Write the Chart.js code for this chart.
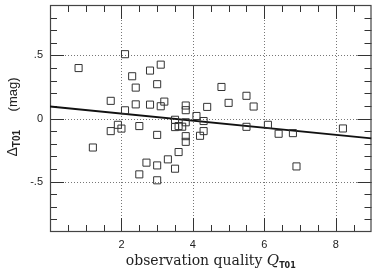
<!DOCTYPE html>
<html>
<head>
<meta charset="utf-8">
<script src="https://cdn.jsdelivr.net/npm/chart.js@4"></script>
<style>
  html, body { margin: 0; padding: 0; background: #fff; }
  #c { display: block; }
</style>
</head>
<body>
<canvas id="c" width="372" height="269"></canvas>
<script>
// observation quality Q_T01 and residual Delta_T01 (mag)
const quality = [0.8, 1.2, 1.7, 1.7, 1.9, 2.0, 2.1, 2.1, 2.3, 2.4, 2.4, 2.5, 2.5, 2.7, 2.8, 2.8,
  3.0, 3.0, 3.0, 3.0, 3.1, 3.1, 3.2, 3.3, 3.5, 3.5, 3.5, 3.6, 3.6, 3.7, 3.8, 3.8, 3.8, 3.8, 3.8,
  4.1, 4.2, 4.3, 4.3, 4.4, 4.8, 5.0, 5.5, 5.5, 5.7, 6.1, 6.4, 6.8, 6.9, 8.2];
const delta = [0.40, -0.23, 0.14, -0.10, -0.05, -0.08, 0.51, 0.065, 0.335, 0.245, 0.112, -0.06, -0.443, -0.35, 0.38, 0.11,
  0.272, -0.13, -0.372, -0.49, 0.427, 0.097, 0.134, -0.324, -0.01, -0.068, -0.398, -0.06, -0.266, -0.065, 0.103, 0.066, -0.03, -0.14, -0.185,
  0.02, -0.137, -0.02, -0.1, 0.092, 0.25, 0.124, 0.18, -0.066, 0.095, -0.05, -0.121, -0.116, -0.38, -0.079];

// straight fit line
const fitQ = [0, 9];
const fitDelta = [0.095, -0.157];

const xTicks = [2, 4, 6, 8];
const xTickLabels = ['2', '4', '6', '8'];
const yTicks = [-0.5, 0, 0.5];
const yTickLabels = ['-.5', '0', '.5'];

const near = (a, b) => Math.abs(a - b) < 1e-6;

// keep the plot box fixed: no extra padding from tick labels
function noPad(s) {
  s.paddingTop = 0;
  s.paddingBottom = 0;
  s.paddingLeft = 0;
  s.paddingRight = 0;
}

const framePlugin = {
  id: 'frame',
  beforeDatasetsDraw(chart) {
    const ctx = chart.ctx;
    const a = chart.chartArea;
    const xs = chart.scales.x, ys = chart.scales.y;
    ctx.save();
    // dotted grid at major ticks
    ctx.strokeStyle = '#777';
    ctx.lineWidth = 1;
    ctx.setLineDash([1, 2]);
    xTicks.forEach(v => {
      const px = Math.round(xs.getPixelForValue(v)) + 0.5;
      ctx.beginPath(); ctx.moveTo(px, a.top); ctx.lineTo(px, a.bottom); ctx.stroke();
    });
    yTicks.forEach(v => {
      const py = Math.round(ys.getPixelForValue(v)) + 0.5;
      ctx.beginPath(); ctx.moveTo(a.left, py); ctx.lineTo(a.right, py); ctx.stroke();
    });
    ctx.setLineDash([]);
    // inward tick marks on all four sides
    ctx.strokeStyle = '#333';
    for (let i = 1; i < 18; i++) {
      const v = i * 0.5;
      const major = xTicks.some(t => near(t, v));
      const len = major ? 14 : 7;
      const px = Math.round(xs.getPixelForValue(v)) + 0.5;
      ctx.beginPath();
      ctx.moveTo(px, a.bottom); ctx.lineTo(px, a.bottom - len);
      ctx.moveTo(px, a.top); ctx.lineTo(px, a.top + len);
      ctx.stroke();
    }
    for (let i = -8; i <= 8; i++) {
      const v = i / 10;
      const major = yTicks.some(t => near(t, v));
      const len = major ? 14 : 7;
      const py = Math.round(ys.getPixelForValue(v)) + 0.5;
      ctx.beginPath();
      ctx.moveTo(a.left, py); ctx.lineTo(a.left + len, py);
      ctx.moveTo(a.right, py); ctx.lineTo(a.right - len, py);
      ctx.stroke();
    }
    // frame
    ctx.strokeStyle = '#444';
    ctx.lineWidth = 1.2;
    ctx.strokeRect(a.left + 0.5, a.top + 0.5, a.right - a.left - 1, a.bottom - a.top - 1);
    ctx.restore();
  },
  afterDraw(chart) {
    const ctx = chart.ctx;
    const a = chart.chartArea;
    ctx.save();
    ctx.fillStyle = '#222';
    ctx.textBaseline = 'alphabetic';
    // x title: observation quality Q_T01
    const main = 'observation quality ';
    ctx.font = '14px "DejaVu Serif"';
    const w1 = ctx.measureText(main).width;
    ctx.font = 'italic 15px "DejaVu Serif"';
    const w2 = ctx.measureText('Q').width;
    ctx.font = 'bold 8px "DejaVu Sans"';
    const w3 = ctx.measureText('T01').width;
    let x = (a.left + a.right) / 2 - (w1 + w2 + w3) / 2;
    const base = 265;
    ctx.font = '14px "DejaVu Serif"';
    ctx.fillText(main, x, base);
    x += w1;
    ctx.font = 'italic 15px "DejaVu Serif"';
    ctx.fillText('Q', x, base);
    x += w2;
    ctx.font = 'bold 8px "DejaVu Sans"';
    ctx.fillText('T01', x, base + 3);
    // y title: Delta_T01 (mag), rotated
    ctx.translate(17, (a.top + a.bottom) / 2);
    ctx.rotate(-Math.PI / 2);
    let y = -38;
    ctx.font = '14px "Liberation Sans"';
    ctx.fillText('\u0394', y, 0);
    y += ctx.measureText('\u0394').width;
    ctx.font = 'bold 10px "Liberation Sans"';
    ctx.fillText('T01', y, 3);
    ctx.font = '13px "Liberation Sans"';
    ctx.textAlign = 'right';
    ctx.fillText('(mag)', 41, 0);
    ctx.restore();
  }
};

const chart = new Chart(document.getElementById('c'), {
  type: 'scatter',
  data: {
    datasets: [{
      label: 'objects',
      data: quality.map((q, i) => ({ x: q, y: delta[i] })),
      pointStyle: 'rect',
      pointRadius: 5,
      pointBorderWidth: 1,
      pointBorderColor: '#333',
      pointBackgroundColor: 'rgba(0,0,0,0)'
    }, {
      type: 'line',
      label: 'fit',
      data: fitQ.map((q, i) => ({ x: q, y: fitDelta[i] })),
      borderColor: '#111',
      borderWidth: 1.8,
      pointRadius: 0,
      fill: false
    }]
  },
  options: {
    responsive: false,
    animation: false,
    devicePixelRatio: 1,
    layout: { autoPadding: false, padding: { top: 5, right: 0.5, left: 0, bottom: 0 } },
    plugins: {
      legend: { display: false },
      tooltip: { enabled: false }
    },
    scales: {
      x: {
        type: 'linear',
        min: 0,
        max: 9,
        afterFit: s => { s.height = 37; noPad(s); },
        grid: { display: false, drawTicks: false },
        border: { display: false },
        ticks: {
          stepSize: 1,
          autoSkip: false,
          maxRotation: 0,
          padding: 6,
          color: '#222',
          font: { family: 'Liberation Sans', size: 11 },
          callback: v => {
            const k = xTicks.findIndex(t => near(t, v));
            return k >= 0 ? xTickLabels[k] : '';
          }
        }
      },
      y: {
        type: 'linear',
        min: -0.9,
        max: 0.9,
        afterFit: s => { s.width = 50; noPad(s); },
        grid: { display: false, drawTicks: false },
        border: { display: false },
        ticks: {
          stepSize: 0.5,
          autoSkip: false,
          padding: 7,
          color: '#222',
          font: { family: 'Liberation Sans', size: 11 },
          callback: v => {
            const k = yTicks.findIndex(t => near(t, v));
            return k >= 0 ? yTickLabels[k] : '';
          }
        }
      }
    }
  },
  plugins: [framePlugin]
});
</script>
</body>
</html>
